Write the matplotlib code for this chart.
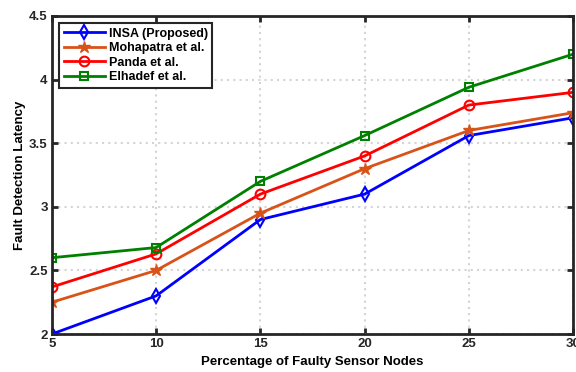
import numpy as np
import matplotlib.pyplot as plt

plt.rcParams['font.family'] = ['Liberation Sans', 'DejaVu Sans']
plt.rcParams['font.weight'] = 'bold'

x = [5, 10, 15, 20, 25, 30]
insa = [2.0, 2.3, 2.9, 3.1, 3.56, 3.70]
mohapatra = [2.25, 2.5, 2.95, 3.3, 3.6, 3.74]
panda = [2.37, 2.63, 3.1, 3.4, 3.8, 3.9]
elhadef = [2.6, 2.68, 3.2, 3.56, 3.94, 4.2]

labels = ['INSA (Proposed)', 'Mohapatra et al.', 'Panda et al.', 'Elhadef et al.']

fig = plt.figure(figsize=(5.76, 3.72), dpi=100)
ax = fig.add_axes([0.09, 0.102, 0.905, 0.855])

ax.plot(x, insa, color='#0000FF', marker='d', mfc='none', mew=1.5, ms=7, lw=2, label=labels[0])
ax.plot(x, mohapatra, color='#D95319', marker='*', mfc='#D95319', ms=9, lw=2, label=labels[1])
ax.plot(x, panda, color='#FF0000', marker='o', mfc='none', mew=1.5, ms=7, lw=2, label=labels[2])
ax.plot(x, elhadef, color='#008000', marker='s', mfc='none', mew=1.5, ms=6, lw=2, label=labels[3])

ax.set_xlim(5, 30)
ax.set_ylim(2, 4.5)
ax.set_xticks([5, 10, 15, 20, 25, 30])
ax.set_yticks([2, 2.5, 3, 3.5, 4, 4.5])
ax.set_yticklabels(['2', '2.5', '3', '3.5', '4', '4.5'])
ax.grid(True, linestyle=(0, (1, 2)), color='#d4d4d4', lw=1.5)
ax.tick_params(direction='in', top=True, right=True, length=4, width=2,
               labelsize=9.5, colors='#262626', labelcolor='#262626', pad=3)
for s in ax.spines.values():
    s.set_linewidth(2)
    s.set_color('#262626')

ax.set_xlabel('Percentage of Faulty Sensor Nodes', fontsize=9.5, fontweight='bold', labelpad=4)
ax.set_ylabel('Fault Detection Latency', fontsize=9.5, fontweight='bold', labelpad=2)

leg = ax.legend(loc='upper left', fontsize=9, fancybox=False, framealpha=1,
                edgecolor='#262626', borderpad=0.35, labelspacing=0.2, handlelength=3.3,
                handletextpad=0.3, borderaxespad=0.6)
leg.get_frame().set_linewidth(1.5)

fig.savefig('out.png', dpi=100)
